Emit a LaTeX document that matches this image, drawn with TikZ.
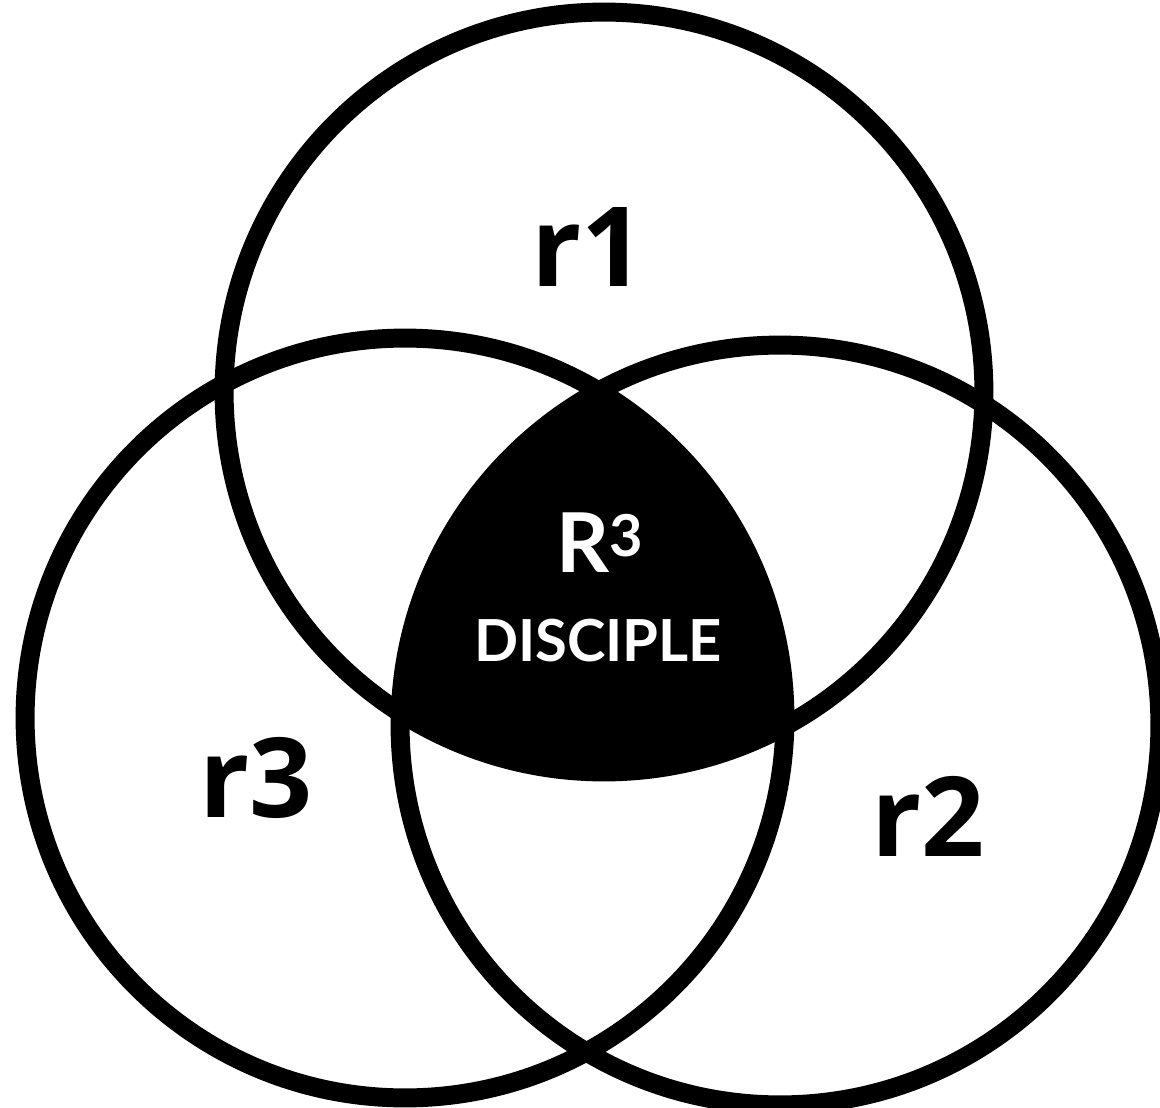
\documentclass[tikz,border=0pt]{standalone}
\usepackage{fontspec}
\setmainfont{Lato}
\newfontfamily\labelfont{Open Sans}
\usetikzlibrary{positioning}

\begin{document}
\begin{tikzpicture}[
    x=0.02cm, y=-0.02cm,
    ring/.style={draw=black, line width=10.8pt},
    rlabel/.style={inner sep=0pt, font=\labelfont\bfseries\fontsize{63}{63}\selectfont},
    core/.style={inner sep=0pt, text=white, font=\bfseries\fontsize{#1}{#1}\selectfont},
    core/.default=33,
  ]
  \useasboundingbox (0,0) rectangle (1160,1108);

  %% --- Circle centres ---
  \coordinate (top)   at (604,392);
  \coordinate (right) at (780,725);
  \coordinate (left)  at (405,718);

  %% --- Shared centre ---
  \begin{scope}
    \clip (top) circle [radius=7.6cm];
    \clip (right) circle [radius=7.6cm];
    \fill[black] (left) circle [radius=7.6cm];
  \end{scope}

  \draw[ring] (top)   circle [radius=7.6cm];
  \draw[ring] (right) circle [radius=7.6cm];
  \draw[ring] (left)  circle [radius=7.6cm];

  %% --- Labels ---
  \node[rlabel] (r1) at (588,247) {r1};
  \node[rlabel] (r2) at (928,816) {r2};
  \node[rlabel] (r3) at (256,778) {r3};

  \node[core=47] (rcube)    at (600,543) {R\textsuperscript{3}};
  \node[core]    (disciple) at (598,641) {DISCIPLE};
\end{tikzpicture}
\end{document}
